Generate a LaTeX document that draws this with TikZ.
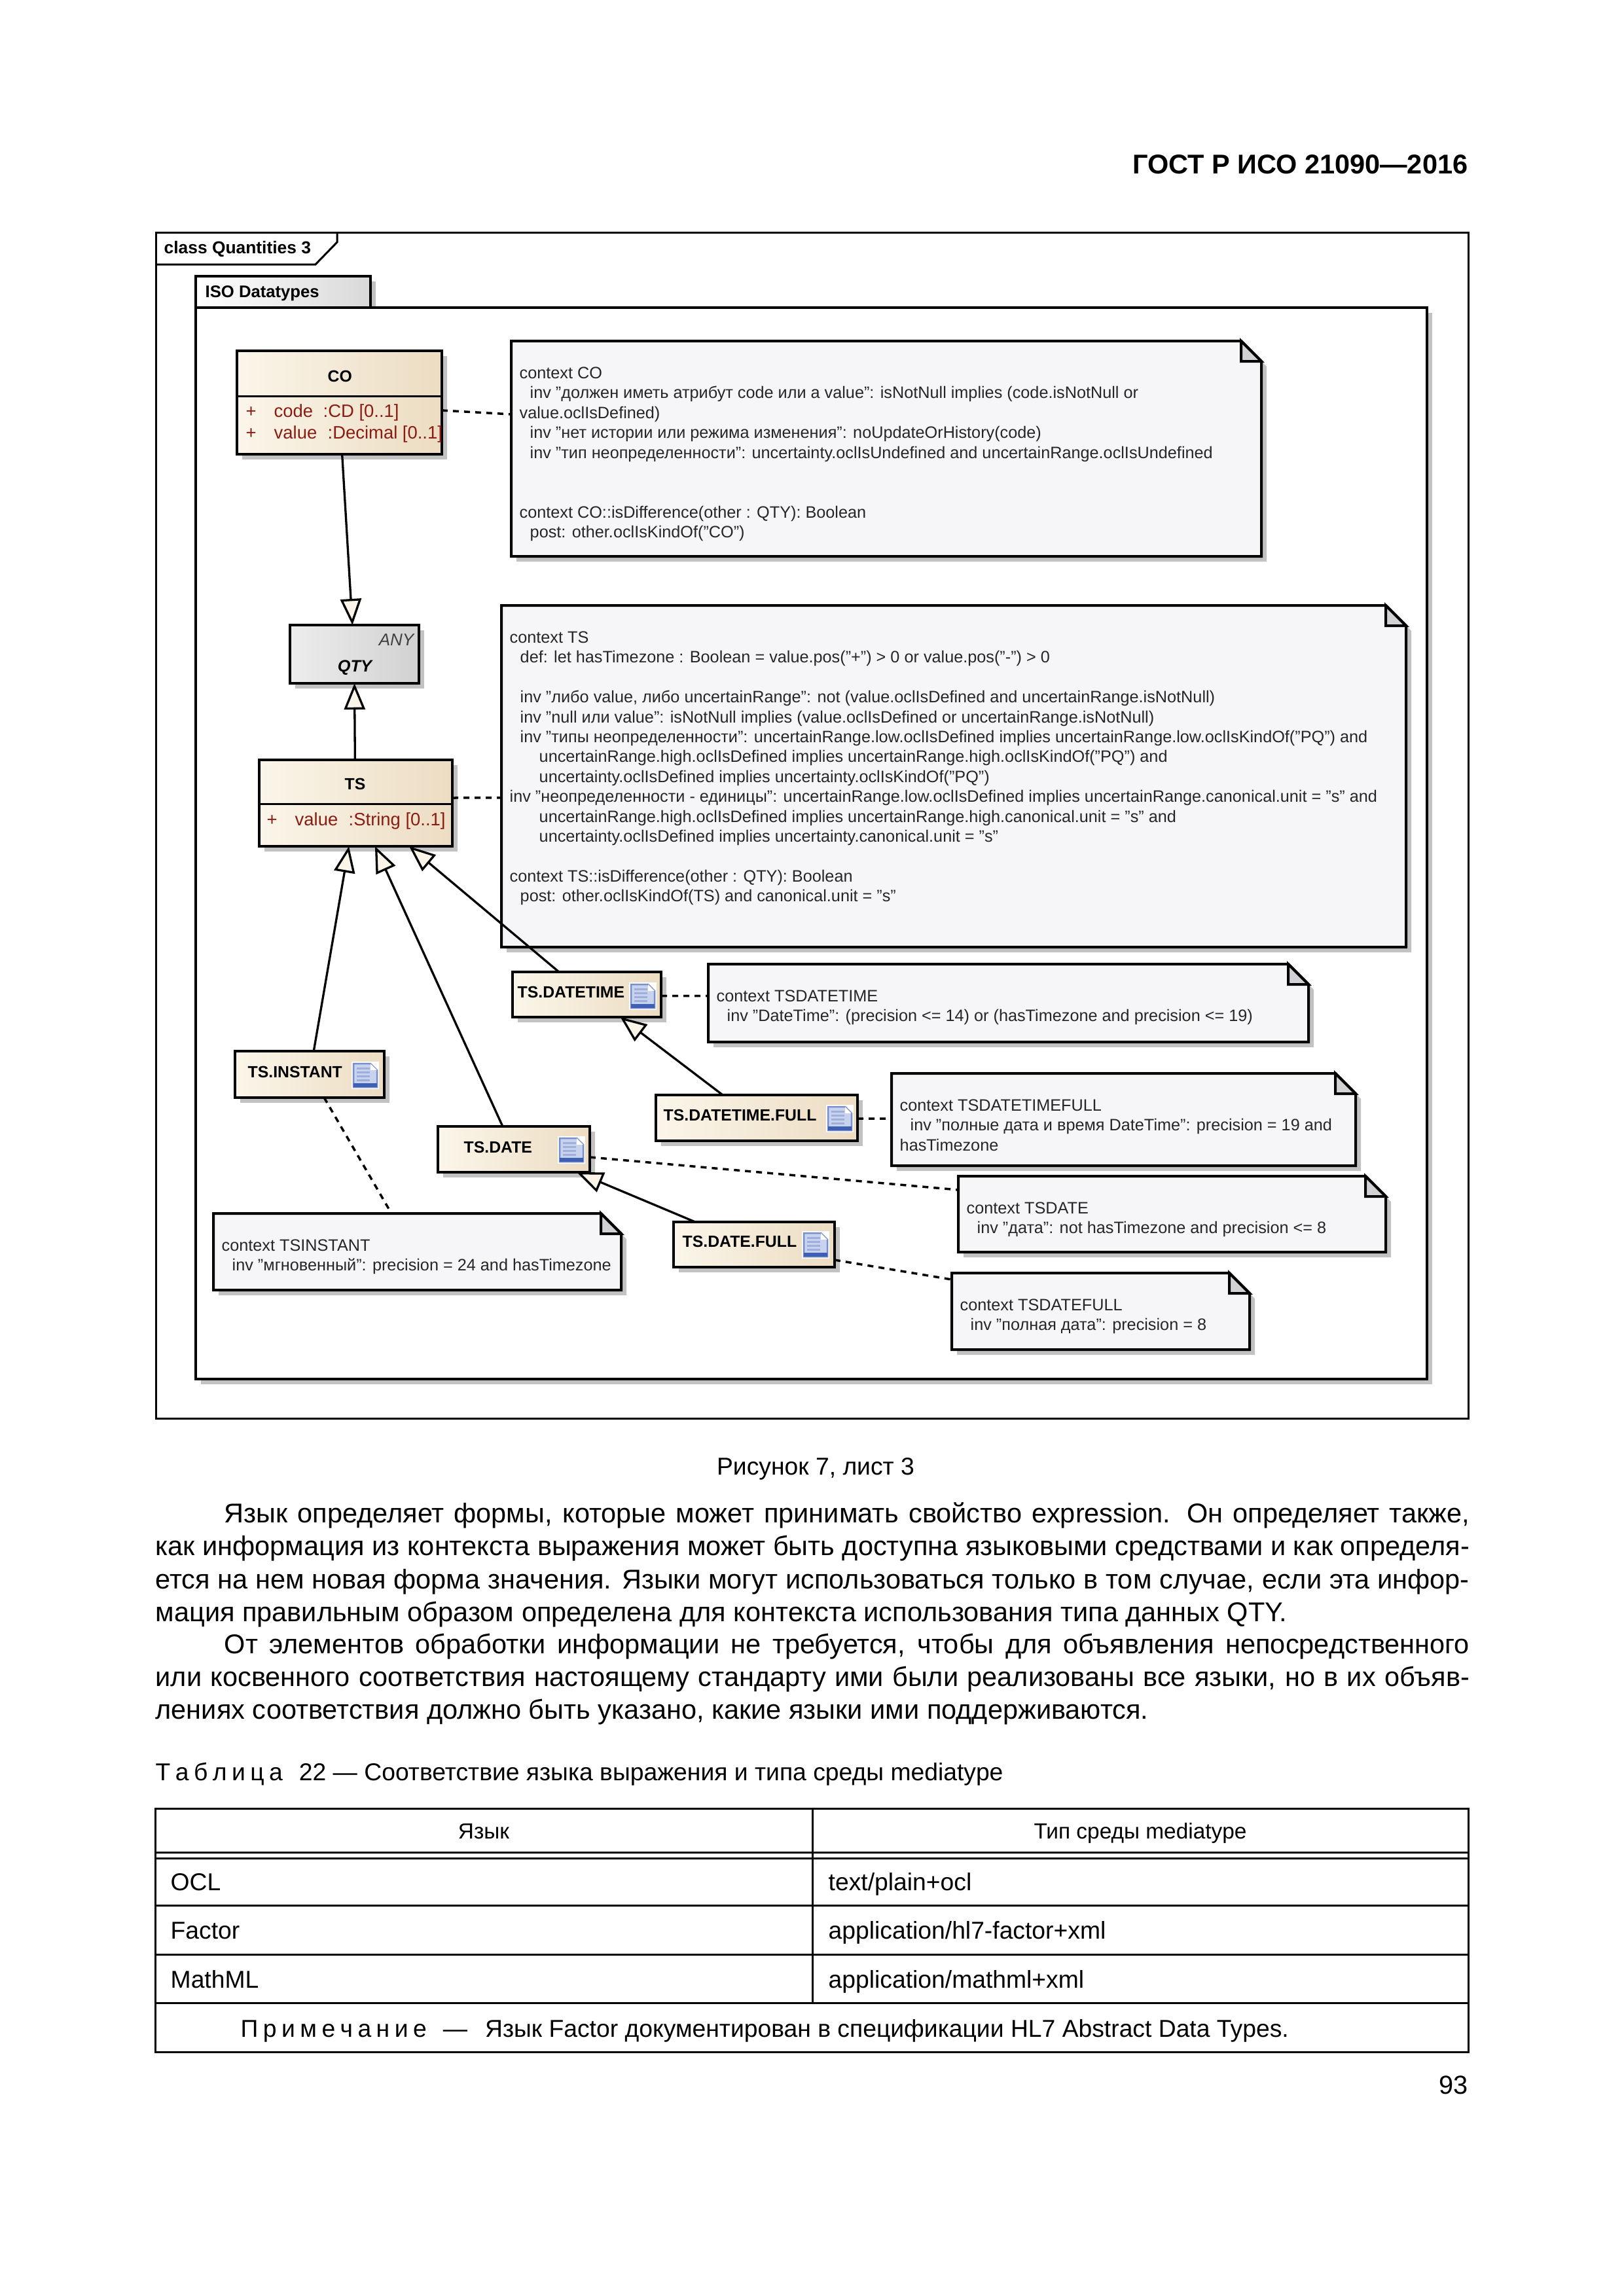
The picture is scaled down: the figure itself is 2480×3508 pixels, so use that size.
\documentclass[tikz,border=0pt]{standalone}
\usepackage{fontspec}
\setmainfont{Liberation Sans}
\usetikzlibrary{arrows.meta,fit,shadows}

\definecolor{shadowgray}{HTML}{C2C2C2}
\definecolor{notefill}{HTML}{F6F5F8}
\definecolor{foldfill}{HTML}{D2D2D6}
\definecolor{tipfill}{HTML}{FAF5E8}
\definecolor{classleft}{HTML}{FBF6EA}
\definecolor{classright}{HTML}{ECDCC2}
\definecolor{attrred}{HTML}{8A1C12}
\definecolor{iconblue}{HTML}{3F5FB5}
\definecolor{iconfill}{HTML}{C6D2EE}

\newcommand{\oclfont}{\fontsize{7.18pt}{8.65pt}\selectfont}
\newcommand{\oclind}{\hspace*{0.16cm}}
\newcommand{\ocldeep}{\hspace*{0.45cm}}
\newcommand{\sparsed}[1]{{\spaceskip=0.2em #1}}

\tikzset{
  boxshadow/.style={drop shadow={shadow xshift=0.08cm,shadow yshift=-0.08cm,fill=shadowgray,opacity=1}},
  classbox/.style={draw,line width=0.045cm,inner sep=0pt,outer sep=0pt,boxshadow,
    left color=classleft,middle color=classleft,right color=classright},
  anybox/.style={draw,line width=0.045cm,inner sep=0pt,outer sep=0pt,boxshadow,
    left color=black!7,right color=black!18},
  anchorbox/.style={inner sep=0pt,outer sep=0pt},
  classname/.style={font=\fontsize{7.05pt}{8.65pt}\selectfont\bfseries,inner sep=0pt,anchor=base west},
  attrtext/.style={font=\fontsize{7.8pt}{8.65pt}\selectfont,text=attrred,inner sep=0pt,anchor=base west},
  oclnotetext/.style={font=\oclfont,text=black!85,inner sep=0pt,anchor=north west,align=left},
  inherit/.style={line width=0.033cm,-{Triangle[length=0.4cm,width=0.32cm,fill=tipfill]}},
  noteline/.style={line width=0.035cm,dash pattern=on 0.09cm off 0.08cm},
  bodytext/.style={font=\fontsize{11.8pt}{14.3pt}\selectfont,inner sep=0pt},
  tabletext/.style={font=\fontsize{10.6pt}{14pt}\selectfont,inner sep=0pt},
  headtext/.style={font=\fontsize{9.5pt}{14pt}\selectfont,inner sep=0pt},
  tableline/.style={line width=0.03cm},
  docicon/.pic={
    \fill[white] (-21,-21) rectangle (21,21);
    \filldraw[iconblue!70,fill=iconfill,line width=0.025cm] (-18,-18) -- (8,-18) -- (18,-8) -- (18,18) -- (-18,18) -- cycle;
    \fill[white] (8,-18) -- (18,-8) -- (8,-8) -- cycle;
    \fill[iconblue] (-18,12) rectangle (18,18);
    \foreach \liney in {-11,-5,1,7}
      \draw[iconblue!50,line width=0.03cm] (-13,\liney) -- (7,\liney);
  },
}

% Примечание со сгибом: имя, x1, y1, x2, y2, текст
\newcommand{\oclnote}[6]{
  \filldraw[line width=0.04cm,fill=notefill,boxshadow] (#2,#3) -- (#4-31,#3) -- (#4,#3+31) -- (#4,#5) -- (#2,#5) -- cycle;
  \filldraw[line width=0.04cm,fill=foldfill] (#4-31,#3) -- (#4-31,#3+31) -- (#4,#3+31) -- cycle;
  \node[anchorbox,fit={(#2,#3) (#4,#5)}] (#1) {};
  \node[oclnotetext] (#1text) at (#2+12,#3+39) {#6};
}

\begin{document}
\begin{tikzpicture}[x=0.01cm,y=-0.01cm]
  \useasboundingbox (0,0) rectangle (2480,3508);

  % Колонтитул
  \node[font=\fontsize{11.8pt}{14.3pt}\selectfont\bfseries,inner sep=0pt,anchor=base east] (header) at (2243,265) {ГОСТ Р ИСО 21090—2016};

  % Рамка диаграммы
  \draw[line width=0.03cm] (238,355) rectangle (2243,2167);
  \draw[line width=0.03cm] (238,404) -- (482,404) -- (515,370) -- (515,355);
  \node[font=\fontsize{7.5pt}{9pt}\selectfont\bfseries,inner sep=0pt,anchor=base west] (framelabel) at (250,387) {class Quantities 3};

  % Пакет
  \filldraw[line width=0.04cm,left color=white,right color=black!15,boxshadow] (299,422) rectangle (566,470);
  \filldraw[line width=0.04cm,fill=white,boxshadow] (299,470) rectangle (2180,2107);
  \node[font=\fontsize{7.3pt}{9pt}\selectfont\bfseries,inner sep=0pt,anchor=base west] (packlabel) at (313,454) {ISO Datatypes};

  % Примечания
  \oclnote{noteco}{781}{521}{1927}{850}{context CO\\
    \oclind inv "должен иметь атрибут code или a value": isNotNull implies (code.isNotNull or\\
    value.oclIsDefined)\\
    \oclind inv "нет истории или режима изменения": noUpdateOrHistory(code)\\
    \oclind inv "тип неопределенности": uncertainty.oclIsUndefined and uncertainRange.oclIsUndefined\\
    ~\\ ~\\
    context CO::isDifference(other : QTY): Boolean\\
    \oclind post: other.oclIsKindOf("CO")}
  \oclnote{notets}{766}{925}{2148}{1447}{context TS\\
    \oclind def: let hasTimezone : Boolean = value.pos("+") > 0 or value.pos("-") > 0\\
    ~\\
    \oclind inv "либо value, либо uncertainRange": not (value.oclIsDefined and uncertainRange.isNotNull)\\
    \oclind inv "null или value": isNotNull implies (value.oclIsDefined or uncertainRange.isNotNull)\\
    \oclind inv "типы неопределенности": uncertainRange.low.oclIsDefined implies uncertainRange.low.oclIsKindOf("PQ") and\\
    \ocldeep uncertainRange.high.oclIsDefined implies uncertainRange.high.oclIsKindOf("PQ") and\\
    \ocldeep uncertainty.oclIsDefined implies uncertainty.oclIsKindOf("PQ")\\
    inv "неопределенности - единицы": uncertainRange.low.oclIsDefined implies uncertainRange.canonical.unit = "s" and\\
    \ocldeep uncertainRange.high.oclIsDefined implies uncertainRange.high.canonical.unit = "s" and\\
    \ocldeep uncertainty.oclIsDefined implies uncertainty.canonical.unit = "s"\\
    ~\\
    context TS::isDifference(other : QTY): Boolean\\
    \oclind post: other.oclIsKindOf(TS) and canonical.unit = "s"}
  \oclnote{notedatetime}{1082}{1473}{1999}{1592}{context TSDATETIME\\
    \oclind inv "DateTime": (precision <= 14) or (hasTimezone and precision <= 19)}
  \oclnote{notedatetimefull}{1362}{1640}{2071}{1781}{context TSDATETIMEFULL\\
    \oclind inv "полные дата и время DateTime": precision = 19 and\\
    hasTimezone}
  \oclnote{notedate}{1464}{1797}{2117}{1913}{context TSDATE\\
    \oclind inv "дата": not hasTimezone and precision <= 8}
  \oclnote{notedatefull}{1454}{1945}{1909}{2062}{context TSDATEFULL\\
    \oclind inv "полная дата": precision = 8}
  \oclnote{noteinstant}{326}{1854}{949}{1971}{context TSINSTANT\\
    \oclind inv "мгновенный": precision = 24 and hasTimezone}

  % Классы
  \node[classbox,fit={(362,536) (675,694)}] (co) {};
  \draw[line width=0.03cm] (362,605) -- (675,605);
  \node[classname] (coname) at (500,583) {CO};
  \node[attrtext] (coplus) at (375,637) {+};
  \node[attrtext] (cocode) at (418,637) {code};
  \node[attrtext] (cocodetype) at (493,637) {:CD [0..1]};
  \node[attrtext] (coplustwo) at (375,670) {+};
  \node[attrtext] (covalue) at (418,670) {value};
  \node[attrtext] (covaluetype) at (500,670) {:Decimal [0..1]};

  \node[anybox,fit={(443,955) (640,1044)}] (qty) {};
  \node[font=\fontsize{7.4pt}{9pt}\selectfont\itshape,text=black!75,inner sep=0pt,anchor=base east] (qtyany) at (633,986) {ANY};
  \node[font=\fontsize{7.2pt}{9pt}\selectfont\bfseries\itshape,inner sep=0pt,anchor=base] (qtyname) at (542,1026) {QTY};

  \node[classbox,fit={(396,1161) (691,1293)}] (ts) {};
  \draw[line width=0.03cm] (396,1228) -- (691,1228);
  \node[classname] (tsname) at (526,1206) {TS};
  \node[attrtext] (tsplus) at (407,1261) {+};
  \node[attrtext] (tsvalue) at (450,1261) {value};
  \node[attrtext] (tsvaluetype) at (532,1261) {:String [0..1]};

  \node[classbox,fit={(783,1485) (1010,1554)}] (tsdatetime) {};
  \node[classname] (tsdatetimename) at (790,1524) {TS.DATETIME};
  \pic at (982,1522) {docicon};
  \node[classbox,fit={(359,1606) (587,1677)}] (tsinstant) {};
  \node[classname] (tsinstantname) at (378,1646) {TS.INSTANT};
  \pic at (558,1643) {docicon};
  \node[classbox,fit={(669,1721) (901,1791)}] (tsdate) {};
  \node[classname] (tsdatename) at (708,1761) {TS.DATE};
  \pic at (873,1757) {docicon};
  \node[classbox,fit={(1002,1673) (1310,1743)}] (tsdatetimefull) {};
  \node[classname] (tsdatetimefullname) at (1013,1712) {TS.DATETIME.FULL};
  \pic at (1283,1709) {docicon};
  \node[classbox,fit={(1029,1867) (1275,1936)}] (tsdatefull) {};
  \node[classname] (tsdatefullname) at (1042,1905) {TS.DATE.FULL};
  \pic at (1246,1902) {docicon};

  % Наследование
  \draw[inherit] (co.-87.5) -- (qty.94.5);
  \draw[inherit] (ts.91.3) -- (qty.south);
  \draw[inherit] (tsinstant.80.4) -- (ts.-99.9);
  \draw[inherit] (tsdate.116.6) -- (ts.-66.6);
  \draw[inherit] (tsdatetime.141.6) -- (ts.-39.4);
  \draw[inherit] (tsdatetimefull.146.3) -- (tsdatetime.-34.3);
  \draw[inherit] (tsdatefull.159.7) -- (tsdate.-20.8);

  % Связи с примечаниями
  \draw[noteline] ([yshift=-0.12cm]co.east) -- ([yshift=0.525cm]noteco.west);
  \draw[noteline] ([yshift=0.08cm]ts.east) -- ([yshift=-0.3275cm]notets.west);
  \draw[noteline] ([yshift=-0.02cm]tsdatetime.east) -- ([yshift=0.11cm]notedatetime.west);
  \draw[noteline] ([yshift=-0.01cm]tsdatetimefull.east) -- ([yshift=0.015cm]notedatetimefull.west);
  \draw[noteline] ([yshift=-0.12cm]tsdate.east) -- ([yshift=0.37cm]notedate.west);
  \draw[noteline] ([yshift=-0.235cm]tsdatefull.east) -- ([yshift=0.485cm]notedatefull.west);
  \draw[noteline] (tsinstant.-58.8) -- (noteinstant.124.9);

  % Текст страницы
  \node[font=\fontsize{10.6pt}{14pt}\selectfont,inner sep=0pt,anchor=base] (figcaption) at (1246,2253) {Рисунок 7, лист 3};
  \node[bodytext,anchor=north west,text width=20.06cm,align=justify] (paraone) at (237,2295) {%
    \hspace*{1.05cm}Язык определяет формы, которые может принимать свойство expression. Он определяет также,\linebreak
    как информация из контекста выражения может быть доступна языковыми средствами и как определя-\linebreak
    ется на нем новая форма значения. Языки могут использоваться только в том случае, если эта инфор-\linebreak
    мация правильным образом определена для контекста использования типа данных QTY.};
  \node[bodytext,anchor=north west,text width=20.06cm,align=justify] (paratwo) at (237,2495) {%
    \hspace*{1.05cm}От элементов обработки информации не требуется, чтобы для объявления непосредственного\linebreak
    или косвенного соответствия настоящему стандарту ими были реализованы все языки, но в их объяв-\linebreak
    лениях соответствия должно быть указано, какие языки ими поддерживаются.};
  \node[tabletext,anchor=base west] (tablecaption) at (237,2720) {\sparsed{Т а б л и ц а}\hspace{0.25cm}22 — Соответствие языка выражения и типа среды mediatype};

  % Таблица
  \draw[tableline] (237,2763) rectangle (2243,3135);
  \draw[tableline] (237,2830) -- (2243,2830);
  \draw[tableline] (237,2839) -- (2243,2839);
  \draw[tableline] (237,2911) -- (2243,2911);
  \draw[tableline] (237,2986) -- (2243,2986);
  \draw[tableline] (237,3060) -- (2243,3060);
  \draw[tableline] (1241,2763) -- (1241,3060);
  \node[headtext,anchor=base] (headlang) at (739,2809) {Язык};
  \node[headtext,anchor=base] (headtype) at (1742,2809) {Тип среды mediatype};
  \node[tabletext,anchor=base west] (rowocl) at (260,2888) {OCL};
  \node[tabletext,anchor=base west] (rowoclmedia) at (1265,2888) {text/plain+ocl};
  \node[tabletext,anchor=base west] (rowfactor) at (260,2962) {Factor};
  \node[tabletext,anchor=base west] (rowfactormedia) at (1265,2962) {application/hl7-factor+xml};
  \node[tabletext,anchor=base west] (rowmathml) at (260,3037) {MathML};
  \node[tabletext,anchor=base west] (rowmathmlmedia) at (1265,3037) {application/mathml+xml};
  \node[tabletext,anchor=base west] (tablenote) at (367,3112) {\sparsed{П р и м е ч а н и е}\hspace{0.25cm}—\hspace{0.27cm}Язык Factor документирован в спецификации HL7 Abstract Data Types.};

  \node[font=\fontsize{11.3pt}{14pt}\selectfont,inner sep=0pt,anchor=base east] (pagenum) at (2243,3199) {93};
\end{tikzpicture}
\end{document}
